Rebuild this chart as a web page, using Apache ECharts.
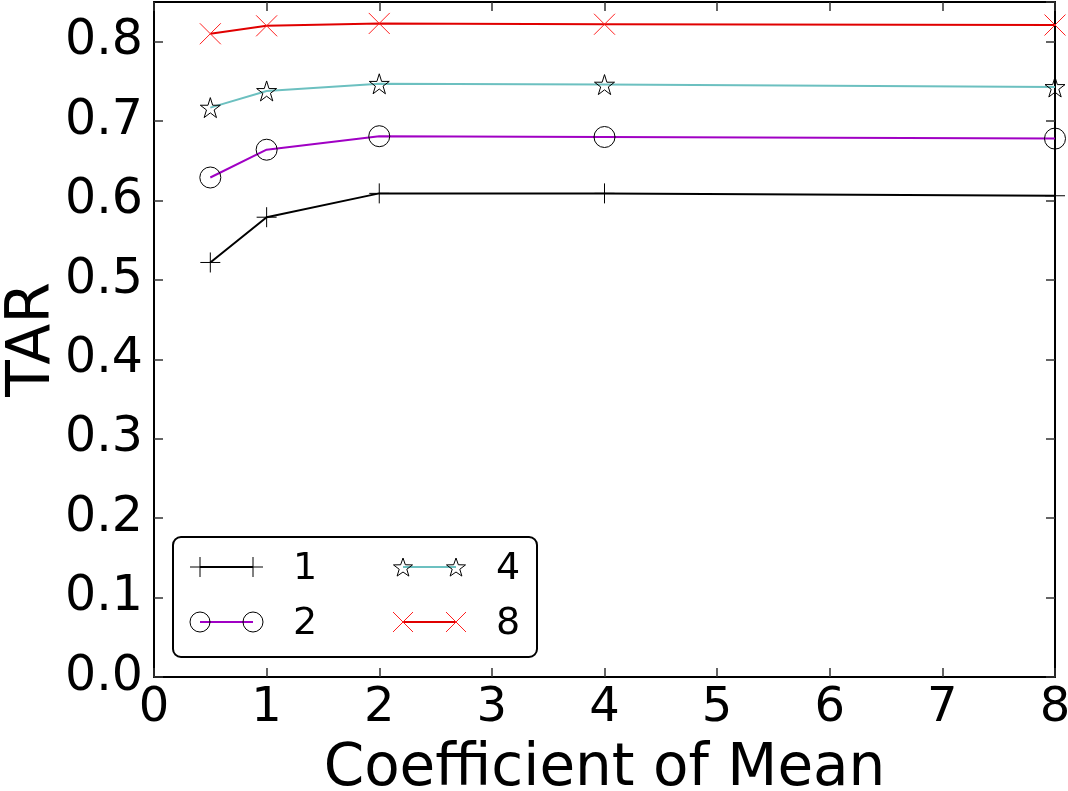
<!DOCTYPE html>
<html>
<head>
    <meta charset="utf-8">
    <title>TAR vs Coefficient of Mean</title>
    <script src="https://cdn.jsdelivr.net/npm/echarts@6/dist/echarts.min.js"></script>
    <style>
      body { margin: 0; background: #fff; }
    </style>
</head>
<body>
    <div id="main" style="width: 1068px;height:791px;"></div>
    <script type="text/javascript">
        // data
        var coefs = [0.5, 1, 2, 4, 8];
        var names = ['1', '2', '4', '8'];
        var tar1 = [0.522, 0.579, 0.609, 0.609, 0.606];
        var tar2 = [0.629, 0.664, 0.681, 0.680, 0.678];
        var tar4 = [0.717, 0.738, 0.747, 0.746, 0.743];
        var tar8 = [0.810, 0.820, 0.823, 0.822, 0.821];
        var yTicks = [0, 0.1, 0.2, 0.3, 0.4, 0.5, 0.6, 0.7, 0.8];

        var FONT = 'DejaVu Sans';
        var lineColors = ['#000000', '#a000c4', '#6cc0c0', '#e00000'];
        var edgeColors = ['#000000', '#000000', '#000000', '#ff2020'];
        var plusPath = 'path://M10,0L10,20M0,10L20,10';
        var xPath = 'path://M0,0L20,20M20,0L0,20';
        var starPath = 'path://M50,0L61.2,34.5L97.6,34.5L68.2,55.9L79.4,90.5L50,69.1L20.6,90.5L31.8,55.9L2.4,34.5L38.8,34.5Z';
        var symbols = [plusPath, 'circle', starPath, xPath];
        var symbolSizes = [20, 21, 20, 21];
        var seriesData = [tar1, tar2, tar4, tar8];

        var myChart = echarts.init(document.getElementById('main'));

        function pairs(ys) {
          return coefs.map(function (x, i) { return [x, ys[i]]; });
        }

        var series = seriesData.map(function (ys, i) {
          return {
            name: names[i],
            type: 'line',
            data: pairs(ys),
            symbol: symbols[i],
            symbolSize: symbolSizes[i],
            showAllSymbol: true,
            clip: true,
            lineStyle: { color: lineColors[i], width: 2 },
            itemStyle: { color: 'rgba(0,0,0,0)', borderColor: edgeColors[i], borderWidth: 1 },
            emphasis: { disabled: true },
            z: 3 + i
          };
        });

        // hand drawn legend: line with a marker at each end, like the original
        var legendItems = [];
        legendItems.push({
          type: 'rect',
          shape: { x: 173, y: 537, width: 364, height: 120, r: 8 },
          style: { fill: '#fff', stroke: '#000', lineWidth: 2 }
        });
        var legPos = [[200, 567], [200, 622], [403, 567], [403, 622]];
        var legTextX = [293, 293, 496, 496];
        function markerShapes(i, cx, cy) {
          var st = { stroke: edgeColors[i], lineWidth: 1, fill: 'none' };
          if (i === 0) {
            return [
              { type: 'line', shape: { x1: cx - 10, y1: cy, x2: cx + 10, y2: cy }, style: st },
              { type: 'line', shape: { x1: cx, y1: cy - 10, x2: cx, y2: cy + 10 }, style: st }
            ];
          }
          if (i === 1) {
            return [{ type: 'circle', shape: { cx: cx, cy: cy, r: 10 }, style: st }];
          }
          if (i === 2) {
            var pts = [];
            for (var k = 0; k < 10; k++) {
              var a = -Math.PI / 2 + k * Math.PI / 5;
              var r = k % 2 === 0 ? 10 : 4;
              pts.push([cx + r * Math.cos(a), cy + 1 + r * Math.sin(a)]);
            }
            return [{ type: 'polygon', shape: { points: pts }, style: st }];
          }
          return [
            { type: 'line', shape: { x1: cx - 10, y1: cy - 10, x2: cx + 10, y2: cy + 10 }, style: st },
            { type: 'line', shape: { x1: cx - 10, y1: cy + 10, x2: cx + 10, y2: cy - 10 }, style: st }
          ];
        }
        names.forEach(function (n, i) {
          var x0 = legPos[i][0], y0 = legPos[i][1], x1 = x0 + 53;
          legendItems.push({
            type: 'line',
            shape: { x1: x0, y1: y0, x2: x1, y2: y0 },
            style: { stroke: lineColors[i], lineWidth: 2 }
          });
          legendItems = legendItems.concat(markerShapes(i, x0, y0), markerShapes(i, x1, y0));
          legendItems.push({
            type: 'text',
            x: legTextX[i], y: y0 + 2,
            style: { text: n, font: '38px "DejaVu Sans"', fill: '#000', verticalAlign: 'middle' }
          });
        });

        var tickStyle = { show: true, inside: true, length: 9, lineStyle: { color: '#333', width: 1.5 } };
        var frameLine = { show: true, onZero: false, lineStyle: { color: '#000', width: 2 } };

        var option = {
          animation: false,
          backgroundColor: '#fff',
          textStyle: { fontFamily: FONT },
          grid: {
            left: 154, right: 13, top: 2, bottom: 114,
            containLabel: false, outerBoundsMode: 'none',
            show: false
          },
          xAxis: [{
            type: 'value', min: 0, max: 8, interval: 1,
            name: 'Coefficient of Mean', nameLocation: 'middle', nameGap: 64,
            nameTextStyle: { fontSize: 58, color: '#000', fontFamily: FONT },
            axisLine: frameLine,
            axisTick: tickStyle,
            axisLabel: { fontSize: 48, color: '#000', margin: 8, fontFamily: FONT },
            splitLine: { show: false }
          }, {
            type: 'value', min: 0, max: 8, interval: 1, position: 'top',
            axisLine: frameLine,
            axisTick: tickStyle,
            axisLabel: { show: false },
            splitLine: { show: false }
          }],
          yAxis: [{
            type: 'value', min: 0, max: 0.85, interval: 0.1,
            name: 'TAR', nameLocation: 'middle', nameGap: 91, nameRotate: 90,
            nameMoveOverlap: false,
            nameTextStyle: { fontSize: 60, color: '#000', fontFamily: FONT },
            axisLine: frameLine,
            axisTick: tickStyle,
            axisLabel: {
              fontSize: 49, color: '#000', margin: 11, fontFamily: FONT, showMaxLabel: false,
              formatter: function (v) {
                var t = yTicks.find(function (y) { return Math.abs(y - v) < 1e-6; });
                return t === undefined ? '' : t.toFixed(1);
              }
            },
            splitLine: { show: false }
          }, {
            type: 'value', min: 0, max: 0.85, interval: 0.1, position: 'right',
            axisLine: frameLine,
            axisTick: tickStyle,
            axisLabel: { show: false },
            splitLine: { show: false }
          }],
          series: series,
          graphic: [{ type: 'group', z: 100, children: legendItems }]
        };
        myChart.setOption(option);
    </script>
</body>
</html>
